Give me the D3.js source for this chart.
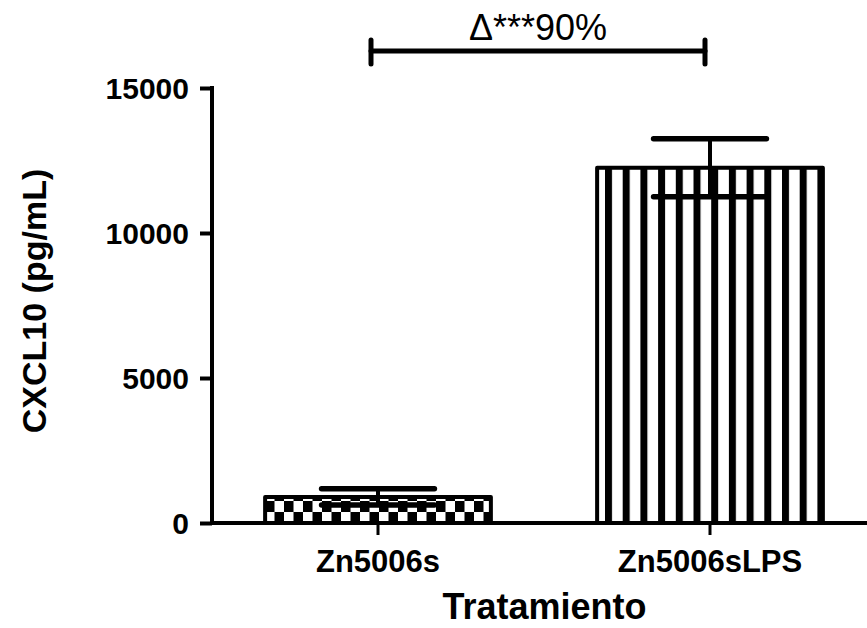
<!DOCTYPE html>
<html>
<head>
<meta charset="utf-8">
<script src="https://cdn.jsdelivr.net/npm/d3@7"></script>
<style>
  body { margin: 0; background: #fff; }
  text { font-family: "Liberation Sans", Arial, sans-serif; }
</style>
</head>
<body>
<div id="okvir"></div>
<script>
// podaci
const kategorije = ["Zn5006s", "Zn5006sLPS"]
const srednje = [900, 12250]
const greske = [280, 1000]
const uzorci = ["sah", "pruge"]
const yOznake = [0, 5000, 10000, 15000]
const naslovX = "Tratamiento"
const naslovY = "CXCL10 (pg/mL)"
const oznakaZnacaja = "\u0394***90%"
const razinaZnacaja = 16280

const sirina = 867, visina = 628

const svg = d3.select("#okvir").append("svg")
  .attr("width", sirina)
  .attr("height", visina)

// uzorci za stupce
const defs = svg.append("defs")
const sah = defs.append("pattern")
  .attr("id", "sah")
  .attr("patternUnits", "userSpaceOnUse")
  .attr("width", 19).attr("height", 22)
  .attr("x", 265).attr("y", 501)
sah.append("rect").attr("width", 19).attr("height", 22).attr("fill", "#fff")
sah.append("rect").attr("x", 0).attr("y", 0).attr("width", 9.5).attr("height", 11).attr("fill", "#000")
sah.append("rect").attr("x", 9.5).attr("y", 11).attr("width", 9.5).attr("height", 11).attr("fill", "#000")

const pruge = defs.append("pattern")
  .attr("id", "pruge")
  .attr("patternUnits", "userSpaceOnUse")
  .attr("width", 17.7).attr("height", 10)
  .attr("x", 605)
pruge.append("rect").attr("width", 17.7).attr("height", 10).attr("fill", "#fff")
pruge.append("rect").attr("x", 0).attr("width", 7).attr("height", 10).attr("fill", "#000")

// razmjeri
const x = d3.scaleBand()
  .domain(kategorije)
  .range([212, 876])
  .paddingInner(0.32)
  .paddingOuter(0.16)

const y = d3.scaleLinear()
  .domain([0, 15000])
  .range([523, 88])

const podaci = kategorije.map((k, i) => ({ k, m: srednje[i], e: greske[i], u: uzorci[i] }))

// stupci
svg.selectAll(".stupac")
  .data(podaci)
  .enter().append("rect")
    .attr("class", "stupac")
    .attr("x", d => x(d.k))
    .attr("width", x.bandwidth())
    .attr("y", d => y(d.m))
    .attr("height", d => y(0) - y(d.m))
    .attr("fill", d => `url(#${d.u})`)
    .attr("stroke", "#000")
    .attr("stroke-width", 4)
    .attr("stroke-linejoin", "round")

// greske
const sredina = d => x(d.k) + x.bandwidth() / 2
const g = svg.append("g")
  .attr("stroke", "#000")
  .attr("stroke-width", 5.5)
  .attr("stroke-linecap", "round")
g.selectAll(".vert")
  .data(podaci)
  .enter().append("line")
    .attr("x1", sredina).attr("x2", sredina)
    .attr("y1", d => y(d.m - d.e)).attr("y2", d => y(d.m + d.e))
    .attr("stroke-linecap", "butt")
    .attr("stroke-width", 4)
g.selectAll(".gore")
  .data(podaci)
  .enter().append("line")
    .attr("x1", d => sredina(d) - x.bandwidth() / 4)
    .attr("x2", d => sredina(d) + x.bandwidth() / 4)
    .attr("y1", d => y(d.m + d.e)).attr("y2", d => y(d.m + d.e))
g.selectAll(".dolje")
  .data(podaci)
  .enter().append("line")
    .attr("x1", d => sredina(d) - x.bandwidth() / 4)
    .attr("x2", d => sredina(d) + x.bandwidth() / 4)
    .attr("y1", d => y(d.m - d.e)).attr("y2", d => y(d.m - d.e))

// osi
const osY = svg.append("g")
  .attr("transform", "translate(212,0)")
  .call(d3.axisLeft(y).tickValues(yOznake).tickSize(12).tickPadding(11).tickFormat(d3.format("d")))
osY.select(".domain").remove()
osY.selectAll("line").attr("stroke", "#000").attr("stroke-width", 4)
osY.selectAll("text")
  .attr("font-size", 30).attr("font-weight", "bold").attr("fill", "#000")
  .attr("font-family", "Liberation Sans, Arial, sans-serif")
  .attr("dy", "0.36em")
svg.append("line")
  .attr("x1", 212).attr("x2", 212)
  .attr("y1", y(15000) - 2).attr("y2", y(0) + 2)
  .attr("stroke", "#000").attr("stroke-width", 4)

const osX = svg.append("g")
  .attr("transform", `translate(0,${y(0)})`)
  .call(d3.axisBottom(x).tickSize(12).tickPadding(15))
osX.select(".domain").remove()
osX.selectAll("line").attr("stroke", "#000").attr("stroke-width", 3)
osX.selectAll("text")
  .attr("font-size", 31).attr("font-weight", "bold").attr("fill", "#000")
  .attr("font-family", "Liberation Sans, Arial, sans-serif")
svg.append("line")
  .attr("x1", 210).attr("x2", sirina)
  .attr("y1", y(0)).attr("y2", y(0))
  .attr("stroke", "#000").attr("stroke-width", 4)

// naslovi osi
svg.append("text")
  .attr("x", (212 + sirina) / 2 + 5)
  .attr("y", 619)
  .attr("text-anchor", "middle")
  .attr("font-size", 36).attr("font-weight", "bold")
  .text(naslovX)

svg.append("text")
  .attr("transform", "translate(46,301) rotate(-90)")
  .attr("text-anchor", "middle")
  .attr("font-size", 34).attr("font-weight", "bold")
  .text(naslovY)

// oznaka znacajnosti
const lijevo = sredina(podaci[0]) - 7
const desno = sredina(podaci[1]) - 5
const b = svg.append("g")
  .attr("stroke", "#000").attr("stroke-width", 5).attr("stroke-linecap", "round")
b.append("line").attr("x1", lijevo).attr("x2", desno)
  .attr("y1", y(razinaZnacaja)).attr("y2", y(razinaZnacaja))
b.append("line").attr("x1", lijevo).attr("x2", lijevo)
  .attr("y1", y(razinaZnacaja) - 11).attr("y2", y(razinaZnacaja) + 13)
b.append("line").attr("x1", desno).attr("x2", desno)
  .attr("y1", y(razinaZnacaja) - 11).attr("y2", y(razinaZnacaja) + 13)

svg.append("text")
  .attr("x", (lijevo + desno) / 2)
  .attr("y", 40)
  .attr("text-anchor", "middle")
  .attr("font-size", 36)
  .text(oznakaZnacaja)
</script>
</body>
</html>
